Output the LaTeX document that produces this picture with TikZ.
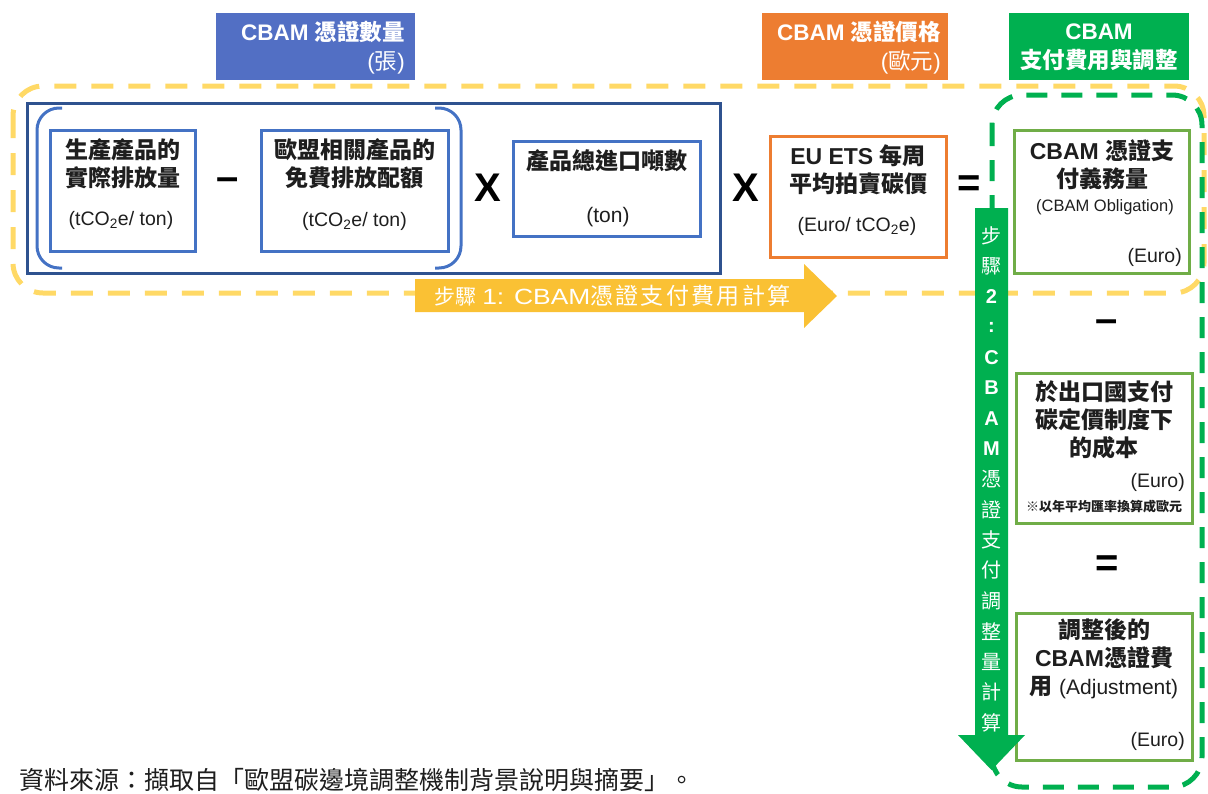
\documentclass[tikz,border=0pt]{standalone}
\usepackage{fontspec}
\setmainfont{Liberation Sans}
\newfontfamily\cjk{Noto Sans CJK TC}
\newfontfamily\cjkls[LetterSpace=10]{Noto Sans CJK TC}
\newfontfamily\widesans[FakeStretch=1.2]{Liberation Sans}
\newcommand\zh[1]{{\cjk #1}}
\definecolor{hblue}{RGB}{82,111,196}
\definecolor{horange}{RGB}{237,125,49}
\definecolor{hgreen}{RGB}{0,176,80}
\definecolor{navyc}{RGB}{47,82,143}
\definecolor{bblue}{RGB}{68,114,196}
\definecolor{lgreen}{RGB}{112,173,71}
\definecolor{ydashc}{RGB}{255,217,102}
\definecolor{yarrow}{RGB}{250,193,52}
\definecolor{txt}{RGB}{30,30,30}
\tikzset{
  hdrbox/.style={fill=#1, draw=none, inner sep=0pt},
  hdrtxt/.style={text=white, inner sep=0pt, font=\fontsize{22.5}{29}\selectfont\bfseries},
  navybox/.style={draw=navyc, line width=3pt, inner sep=0pt},
  bluebox/.style={draw=bblue, line width=3pt, inner sep=0pt},
  orangebox/.style={draw=horange, line width=3pt, inner sep=0pt},
  greenbox/.style={draw=lgreen, line width=3pt, inner sep=0pt},
  maintxt/.style={text=txt, inner sep=0pt, align=center, font=\fontsize{23}{28}\selectfont\bfseries},
  unittxt/.style={text=txt, inner sep=0pt, font=\fontsize{19.5}{24}\selectfont},
  optxt/.style={text=black, inner sep=0pt, font=\fontsize{40}{40}\selectfont\bfseries},
  ydashed/.style={draw=ydashc, line width=5pt, dash pattern=on 22pt off 15pt, rounded corners=30pt},
  gdashed/.style={draw=hgreen, line width=5pt, dash pattern=on 21pt off 14pt, rounded corners=30pt},
  bracket/.style={draw=bblue, line width=3pt, rounded corners=22pt},
  vtxt/.style={text=white, inner sep=0pt, font=\fontsize{20}{20}\selectfont}
}
\begin{document}
\begin{tikzpicture}[x=1pt,y=-1pt]
\useasboundingbox (0,0) rectangle (1208,793);
% headers
\node[hdrbox=hblue, minimum width=199pt, minimum height=67pt] (hq) at (315.5,46.5) {};
\node[hdrtxt, anchor=east, align=right] (hqt) at (405,47.5) {CBAM \zh{憑證數量}\\\mdseries(\zh{張})};
\node[hdrbox=horange, minimum width=186pt, minimum height=67pt] (hp) at (855,46.5) {};
\node[hdrtxt, anchor=east, align=right] (hpt) at (941,47.5) {CBAM \zh{憑證價格}\\\mdseries(\zh{歐元})};
\node[hdrbox=hgreen, minimum width=180pt, minimum height=67pt] (hg) at (1099,46.5) {};
\node[hdrtxt, align=center] (hgt) at (1099,47.5) {CBAM\\\zh{支付費用與調整}};
% dashed frames
\draw[ydashed] (13,86) rectangle (1204,293);
\draw[gdashed] (992,95) rectangle (1202,787);
% navy frame and brackets
\node[navybox, minimum width=693pt, minimum height=170pt] (nv) at (373.5,188) {};
\coordinate (lb1) at (62,108); \coordinate (lb2) at (37,108); \coordinate (lb3) at (37,268); \coordinate (lb4) at (62,268);
\draw[bracket] (lb1) -- (lb2) -- (lb3) -- (lb4);
\coordinate (rb1) at (435,108); \coordinate (rb2) at (461,108); \coordinate (rb3) at (461,268); \coordinate (rb4) at (435,268);
\draw[bracket] (rb1) -- (rb2) -- (rb3) -- (rb4);
% boxes
\node[bluebox, minimum width=145pt, minimum height=121pt] (b1) at (122.5,190.5) {};
\node[maintxt] (b1t) at (122.5,164) {\zh{生產產品的}\\\zh{實際排放量}};
\node[unittxt] (b1u) at (121,220) {(tCO\textsubscript{2}e/ ton)};
\node[bluebox, minimum width=187pt, minimum height=121pt] (b2) at (354.5,190.5) {};
\node[maintxt] (b2t) at (354.5,164) {\zh{歐盟相關產品的}\\\zh{免費排放配額}};
\node[unittxt] (b2u) at (354.5,221) {(tCO\textsubscript{2}e/ ton)};
\node[bluebox, minimum width=187pt, minimum height=95pt] (b3) at (606.5,188.5) {};
\node[maintxt] (b3t) at (606.5,161) {\zh{產品總進口噸數}};
\node[unittxt, font=\fontsize{21}{24}\selectfont] (b3u) at (608,217) {(ton)};
\node[orangebox, minimum width=176pt, minimum height=121pt] (ob) at (858,196.5) {};
\node[maintxt] (obt) at (858,170) {EU ETS \zh{每周}\\\zh{平均拍賣碳價}};
\node[unittxt] (obu) at (857,226) {(Euro/ tCO\textsubscript{2}e)};
\node[greenbox, minimum width=175pt, minimum height=143pt] (g1) at (1101.5,201.5) {};
\node[maintxt] (g1t) at (1102,164.5) {CBAM \zh{憑證支}\\\zh{付義務量}};
\node[unittxt, font=\fontsize{16.5}{20}\selectfont] (g1o) at (1105,207) {(CBAM Obligation)};
\node[unittxt, anchor=east] (g1u) at (1182,257) {(Euro)};
\node[greenbox, minimum width=176pt, minimum height=150pt] (g2) at (1104,448) {};
\node[maintxt] (g2t) at (1104,420) {\zh{於出口國支付}\\\zh{碳定價制度下}\\\zh{的成本}};
\node[unittxt, anchor=east] (g2u) at (1185,482) {(Euro)};
\node[text=txt, inner sep=0pt, font=\fontsize{13}{15}\selectfont\bfseries] (g2n) at (1104,507) {\zh{※以年平均匯率換算成歐元}};
\node[greenbox, minimum width=176pt, minimum height=147pt] (g3) at (1104,686.5) {};
\node[maintxt] (g3t) at (1104,659) {\zh{調整後的}\\CBAM\zh{憑證費}\\\zh{用} {\mdseries\fontsize{21}{28}\selectfont(Adjustment)}};
\node[unittxt, anchor=east] (g3u) at (1185,741) {(Euro)};
% operators
\node[optxt] (op1) at (228,184) {–};
\node[optxt] (op2) at (488,188) {X};
\node[optxt] (op3) at (746,188) {X};
\node[optxt] (op4) at (969,186) {=};
\node[optxt] (op5) at (1107,326) {–};
\node[optxt] (op6) at (1107,566) {=};
% yellow arrow
\fill[yarrow] (415,279) -- (804,279) -- (804,264) -- (837,296) -- (804,328) -- (804,312) -- (415,312) -- cycle;
\node[text=white, inner sep=0pt, anchor=west, font=\fontsize{22}{24}\selectfont] (yt) at (434,296) {{\cjk\fontsize{21}{24}\selectfont 步驟} {\widesans 1: CBAM}{\cjkls\fontsize{23}{24}\selectfont 憑證支付費用計算}};
% green arrow
\fill[hgreen] (975,208) -- (1008,208) -- (1008,735) -- (1025,735) -- (991.5,770) -- (958,735) -- (975,735) -- cycle;
\foreach \c [count=\i from 0] in {\zh{步},\zh{驟},\bfseries 2,\bfseries :,\bfseries C,\bfseries B,\bfseries A,\bfseries M,\zh{憑},\zh{證},\zh{支},\zh{付},\zh{調},\zh{整},\zh{量},\zh{計},\zh{算}}{
  \node[vtxt] (v\i) at (991.5,{236+30.4*\i}) {\c};
}
% footer
\node[anchor=west, inner sep=0pt, text=txt, font=\fontsize{25}{28}\selectfont\cjk] (src) at (19,780) {資料來源：擷取自「歐盟碳邊境調整機制背景說明與摘要」。};
\end{tikzpicture}
\end{document}
